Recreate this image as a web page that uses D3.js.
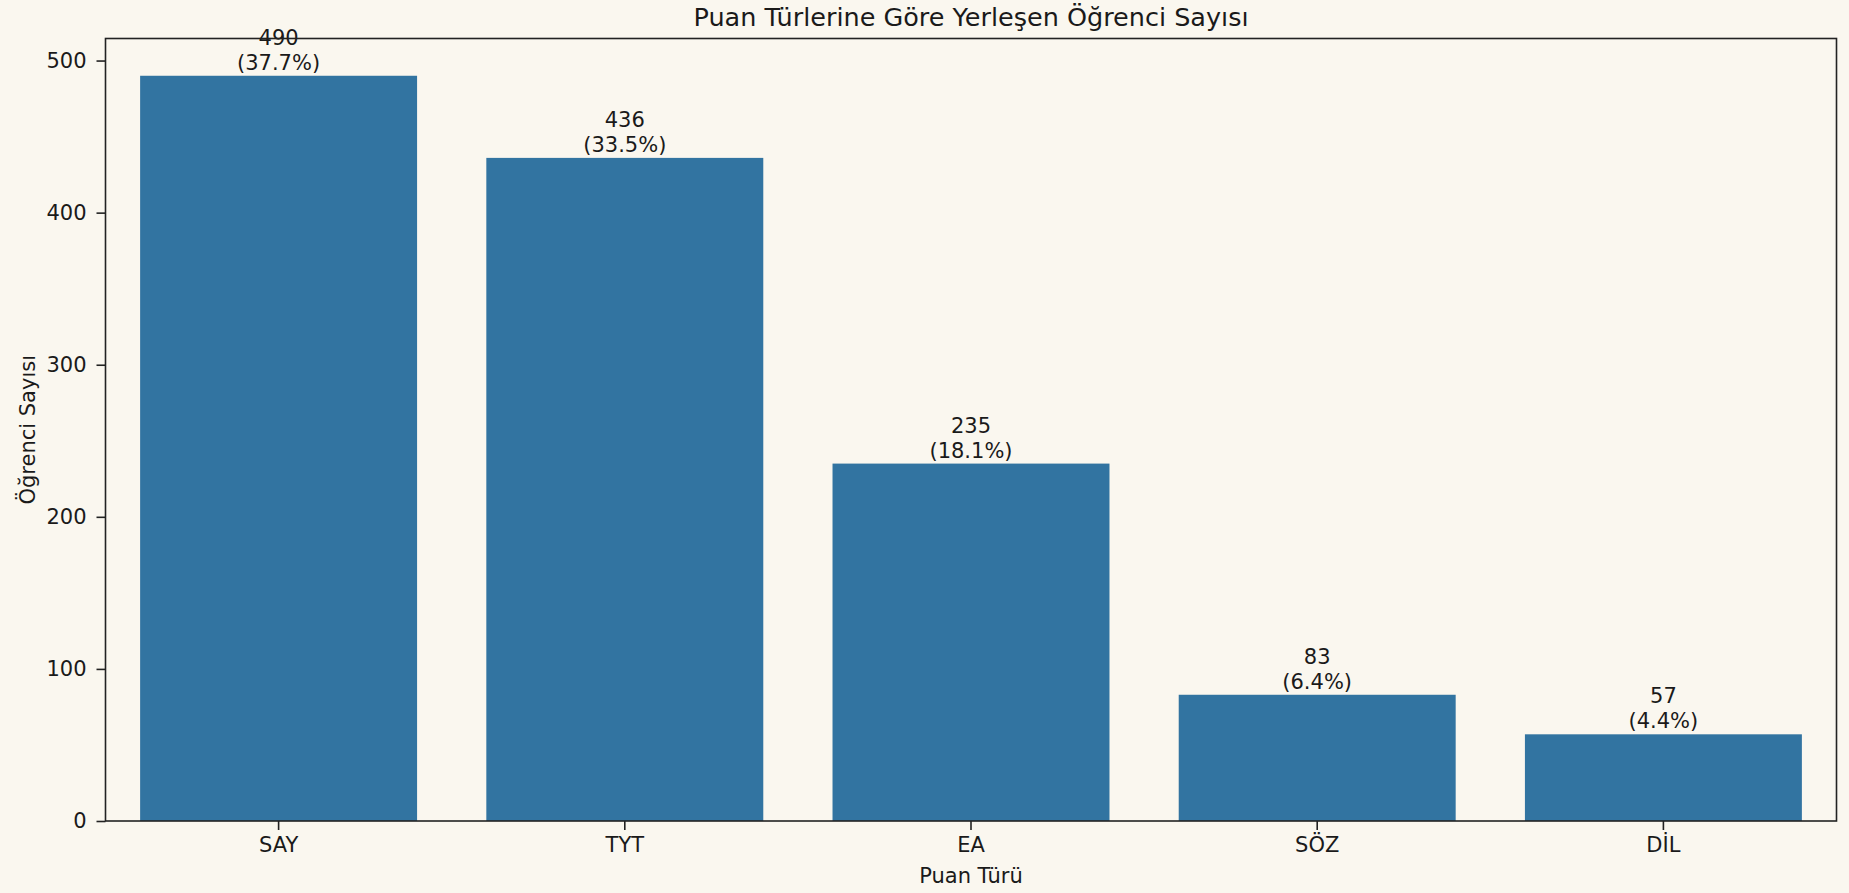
<!DOCTYPE html>
<html lang="tr">
<head>
  <meta charset="UTF-8">
  <script src="https://cdnjs.cloudflare.com/ajax/libs/d3/7.8.5/d3.min.js"></script>
  <title>Puan Türlerine Göre Yerleşen Öğrenci Sayısı</title>
  <style>
    body { margin: 0; background: #faf7ef; }
    text { font-family: "DejaVu Sans", sans-serif; fill: #1a1a1a; }
  </style>
</head>
<body>
  <div id="chart"></div>
  <script>
    const categories = ['SAY', 'TYT', 'EA', 'SÖZ', 'DİL'];
    const counts = [490, 436, 235, 83, 57];
    const percents = ['37.7%', '33.5%', '18.1%', '6.4%', '4.4%'];
    const yTicks = [0, 100, 200, 300, 400, 500];

    const W = 1849, H = 893;
    const margin = { top: 38.5, right: 12.5, bottom: 72, left: 105.5 };
    const width = W - margin.left - margin.right;
    const height = H - margin.top - margin.bottom;

    const svg = d3.select('#chart').append('svg')
      .attr('width', W)
      .attr('height', H);

    const g = svg.append('g')
      .attr('transform', `translate(${margin.left}, ${margin.top})`);

    const x = d3.scaleBand()
      .domain(categories)
      .range([0, width])
      .paddingInner(0.2)
      .paddingOuter(0.1);

    const y = d3.scaleLinear()
      .domain([0, d3.max(counts) * 1.05])
      .range([height, 0]);

    // bars
    g.selectAll('rect.bar')
      .data(categories)
      .enter().append('rect')
      .attr('class', 'bar')
      .attr('x', d => x(d))
      .attr('width', x.bandwidth())
      .attr('y', (d, i) => y(counts[i]))
      .attr('height', (d, i) => height - y(counts[i]))
      .attr('fill', '#3274a1');

    // value labels
    const lab = g.selectAll('text.lab')
      .data(categories)
      .enter().append('text')
      .attr('class', 'lab')
      .attr('text-anchor', 'middle')
      .style('font-size', '21px');
    lab.append('tspan')
      .attr('x', d => x(d) + x.bandwidth() / 2)
      .attr('y', (d, i) => y(counts[i]) - 31)
      .text((d, i) => counts[i]);
    lab.append('tspan')
      .attr('x', d => x(d) + x.bandwidth() / 2)
      .attr('y', (d, i) => y(counts[i]) - 6)
      .text((d, i) => '(' + percents[i] + ')');

    // axes
    const xAxis = g.append('g')
      .attr('transform', `translate(0, ${height})`)
      .call(d3.axisBottom(x).tickSize(9).tickPadding(7));
    const yAxis = g.append('g')
      .call(d3.axisLeft(y).tickValues(yTicks).tickSize(9).tickPadding(10));
    [xAxis, yAxis].forEach(a => {
      a.select('.domain').remove();
      a.selectAll('line').attr('stroke', '#222').attr('stroke-width', 1.6);
      a.selectAll('text').style('font-size', '21px').attr('fill', '#1a1a1a');
    });

    // frame
    g.append('rect')
      .attr('width', width)
      .attr('height', height)
      .attr('fill', 'none')
      .attr('stroke', '#222')
      .attr('stroke-width', 1.6);

    // titles
    svg.append('text')
      .attr('x', margin.left + width / 2)
      .attr('y', 26)
      .attr('text-anchor', 'middle')
      .style('font-size', '25.5px')
      .text('Puan Türlerine Göre Yerleşen Öğrenci Sayısı');

    svg.append('text')
      .attr('x', margin.left + width / 2)
      .attr('y', 883)
      .attr('text-anchor', 'middle')
      .style('font-size', '21px')
      .text('Puan Türü');

    svg.append('text')
      .attr('transform', `translate(35, ${margin.top + height / 2}) rotate(-90)`)
      .attr('text-anchor', 'middle')
      .style('font-size', '21px')
      .text('Öğrenci Sayısı');
  </script>
</body>
</html>
